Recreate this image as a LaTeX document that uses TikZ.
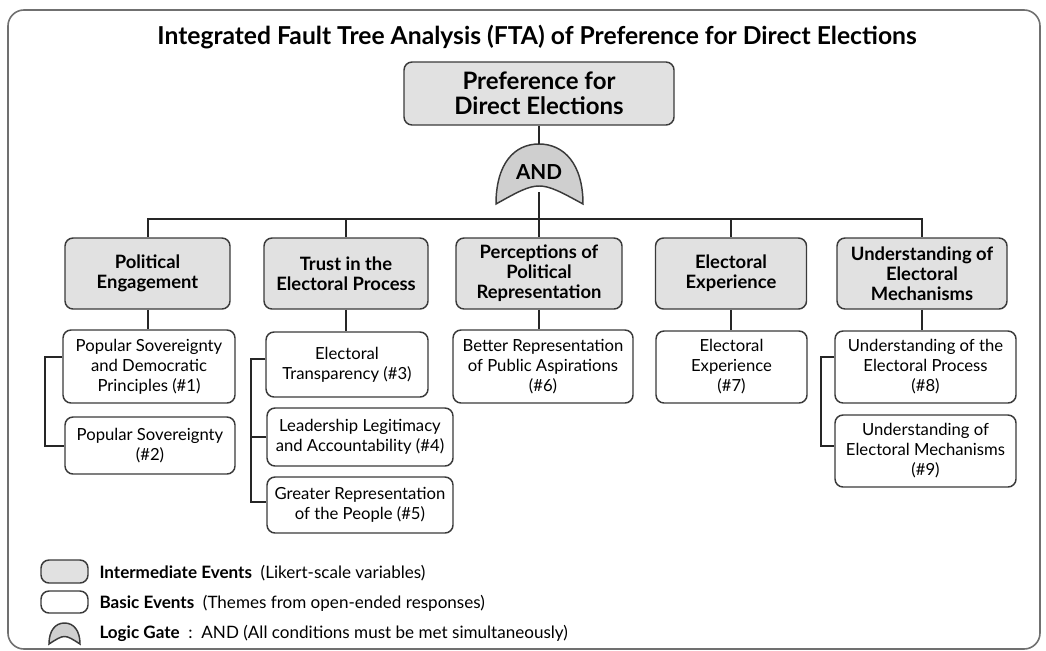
\documentclass[tikz,border=0pt]{standalone}
\usepackage{fontspec}
\setmainfont{Lato}
\usepackage{tikz}
\usepackage{xcolor}
\definecolor{boxgray}{HTML}{E1E1E1}
\definecolor{gategray}{HTML}{CFCFCF}
\definecolor{edgegray}{HTML}{3A3A3A}
\definecolor{framegray}{HTML}{707070}

\begin{document}
\begin{tikzpicture}[x=0.75pt, y=-0.75pt, thick]
\tikzstyle{topev}=[rectangle, rounded corners=6pt, draw=edgegray, line width=1.1pt, fill=boxgray, align=center, inner sep=0pt, font=\fontsize{18}{19}\selectfont\bfseries]
\tikzstyle{inter}=[rectangle, rounded corners=6pt, draw=edgegray, line width=1.1pt, fill=boxgray, align=center, inner sep=0pt, font=\fontsize{13.8}{15}\selectfont\bfseries]
\tikzstyle{basic}=[rectangle, rounded corners=6pt, draw=edgegray, line width=1.1pt, fill=white, align=center, inner sep=0pt, font=\fontsize{12.5}{15}\selectfont]
\tikzstyle{link}=[line width=1.5pt, black!85]
\tikzstyle{gate}=[fill=gategray, draw=edgegray, line width=1.1pt]
\tikzstyle{legend}=[anchor=west, inner sep=0pt, font=\fontsize{12.8}{14}\selectfont]

\useasboundingbox (0,0) rectangle (1046,650);
\draw[framegray, line width=1.2pt, rounded corners=12pt] (8,10) rectangle (1040,649);

\node[font=\fontsize{18.5}{20}\selectfont\bfseries] (title) at (537,37) {Integrated Fault Tree Analysis (FTA) of Preference for Direct Elections};

% top event and AND gate
\node[topev, minimum width=202.5pt, minimum height=47.25pt] (top) at (539,93.5) {Preference for\\Direct Elections};
\coordinate (gtop) at (539,144);
\coordinate (gbot) at (539,192);
\coordinate (bus) at (539,219);
\filldraw[gate] (496,204) .. controls (496,164) and (514,144) .. (539,144) .. controls (564,144) and (583,164) .. (583,204) .. controls (539,180) .. (496,204) -- cycle;
\node[font=\fontsize{15.5}{16}\selectfont\bfseries] (and) at (539,172) {AND};

% intermediate events
\node[inter, minimum width=123.75pt, minimum height=53.25pt] (ie1) at (147.5,273.5) {Political\\Engagement};
\node[inter, minimum width=123pt, minimum height=53.25pt] (ie2) at (346,273.5) {Trust in the\\Electoral Process};
\node[inter, minimum width=124.5pt, minimum height=53.25pt] (ie3) at (539,273.5) {Perceptions of\\Political\\Representation};
\node[inter, minimum width=113.25pt, minimum height=53.25pt] (ie4) at (731,273.5) {Electoral\\Experience};
\node[inter, minimum width=127.5pt, minimum height=53.25pt] (ie5) at (922,273.5) {Understanding of\\Electoral\\Mechanisms};

% basic events
\node[basic, minimum width=129pt, minimum height=54.75pt] (be1) at (149,366.5) {Popular Sovereignty\\and Democratic\\Principles (\#1)};
\node[basic, minimum width=127.5pt, minimum height=42.75pt] (be2) at (150,445.5) {Popular Sovereignty\\(\#2)};
\node[basic, minimum width=121.5pt, minimum height=48.75pt] (be3) at (347,364.5) {Electoral\\Transparency (\#3)};
\node[basic, minimum width=139.5pt, minimum height=43.5pt] (be4) at (360,437) {Leadership Legitimacy\\and Accountability (\#4)};
\node[basic, minimum width=139.5pt, minimum height=42pt] (be5) at (360,505) {Greater Representation\\of the People (\#5)};
\node[basic, minimum width=135pt, minimum height=54.75pt] (be6) at (543,366.5) {Better Representation\\of Public Aspirations\\(\#6)};
\node[basic, minimum width=113.25pt, minimum height=54pt] (be7) at (731.5,367) {Electoral\\Experience\\(\#7)};
\node[basic, minimum width=135.75pt, minimum height=54pt] (be8) at (925.5,367) {Understanding of the\\Electoral Process\\(\#8)};
\node[basic, minimum width=135.75pt, minimum height=54pt] (be9) at (925.5,451) {Understanding of\\Electoral Mechanisms\\(\#9)};

% tree links
\draw[link] (top.south) -- (gtop);
\draw[link] (gbot) -- (bus);
\draw[link] (bus) -| (ie1.north);
\draw[link] (bus) -| (ie2.north);
\draw[link] (bus) -- (ie3.north);
\draw[link] (bus) -| (ie4.north);
\draw[link] (bus) -| (ie5.north);
\draw[link] (ie1.south) -- (ie1.south |- be1.north);
\draw[link] (ie2.south) -- (ie2.south |- be3.north);
\draw[link] (ie3.south) -- (ie3.south |- be6.north);
\draw[link] (ie4.south) -- (ie4.south |- be7.north);
\draw[link] (ie5.south) -- (ie5.south |- be8.north);

% side brackets
\draw[link] ([yshift=7.5pt]be1.west) -- ++(-17,0) |- (be2.west);
\draw[link] ([yshift=4pt]be3.west) -- ++(-14,0) |- ([yshift=2pt]be5.west);
\draw[link] (be4.west) -- ++(-15,0);
\draw[link] ([yshift=7.5pt]be8.west) -- ++(-13,0) |- ([yshift=3.75pt]be9.west);

% legend
\node[inter, minimum width=35.25pt, minimum height=17.25pt] (lgi) at (64.5,571.5) {};
\node[basic, minimum width=35.25pt, minimum height=16.5pt] (lgb) at (64.5,602) {};
\filldraw[gate] (49,644) .. controls (49,631) and (55,623) .. (64.5,623) .. controls (74,623) and (80,631) .. (80,644) .. controls (64.5,634) .. (49,644) -- cycle;
\node[legend] (lti) at (99,573) {\textbf{Intermediate Events}\ \ (Likert-scale variables)};
\node[legend] (ltb) at (99,603) {\textbf{Basic Events}\ \ (Themes from open-ended responses)};
\node[legend] (ltg) at (99,633) {\textbf{Logic Gate}\ \ :\ \ AND (All conditions must be met simultaneously)};
\end{tikzpicture}
\end{document}
